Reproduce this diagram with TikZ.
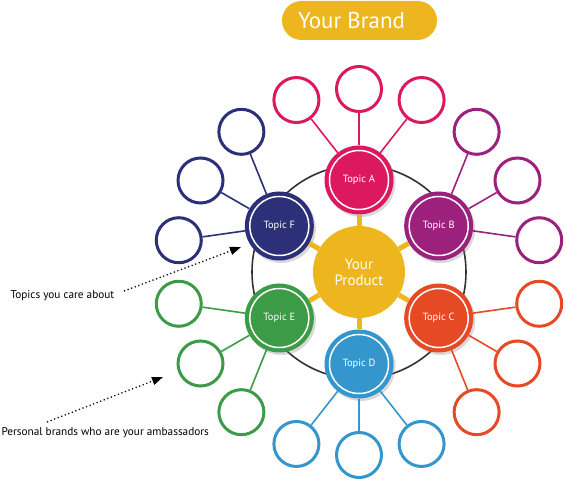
\documentclass[tikz,border=0pt]{standalone}
\usepackage{fontspec}
\setmainfont{PT Sans}
\usetikzlibrary{arrows.meta,shadows,backgrounds}

\definecolor{brandyellow}{RGB}{238,182,30}
\definecolor{topicA}{RGB}{220,24,94}
\definecolor{topicB}{RGB}{155,33,125}
\definecolor{topicC}{RGB}{230,74,36}
\definecolor{topicD}{RGB}{52,150,205}
\definecolor{topicE}{RGB}{60,155,70}
\definecolor{topicF}{RGB}{43,48,120}
\definecolor{ringgray}{RGB}{50,50,50}

\begin{document}
\begin{tikzpicture}[x=1bp, y=1bp,
    topic/.style={circle, fill=#1, minimum size=69bp, inner sep=0pt, text=white,
        font=\fontsize{10.5}{12}\selectfont,
        drop shadow={opacity=0.3, shadow xshift=2bp, shadow yshift=-2.5bp},
        path picture={\draw[white, line width=1.5bp] (path picture bounding box.center) circle (29.5bp);}},
    fan/.style={circle, draw=#1, line width=3bp, fill=white, minimum size=45bp, inner sep=0pt},
    twig/.style={draw=#1, line width=1.6bp},
    spoke/.style={draw=brandyellow, line width=5bp},
    hint/.style={line width=1.3bp, dash pattern=on 1.2bp off 2.6bp, -{Triangle[length=11bp, width=8bp]}},
    note/.style={anchor=west, font=\fontsize{11.3}{14}\selectfont}]

    \useasboundingbox (-359,-210) rectangle (207,272);

    % Title banner
    \node[fill=brandyellow, rounded corners=19.5bp, minimum width=155bp, minimum height=39bp,
        text=white, font=\fontsize{23}{27}\selectfont] (brand) at (0.5,251.5) {Your Brand\hspace*{16bp}};

    % Product in the middle
    \node[circle, fill=brandyellow, minimum size=92bp, inner sep=0pt, align=center, text=white,
        font=\fontsize{15}{16}\selectfont] (product) at (0,0) {Your\\Product};

    % Six topics
    \node[topic=topicA] (tA) at (90:92) {Topic A};
    \node[topic=topicB] (tB) at (30:92) {Topic B};
    \node[topic=topicC] (tC) at (-30:92) {Topic C};
    \node[topic=topicD] (tD) at (-90:92) {Topic D};
    \node[topic=topicE] (tE) at (210:92) {Topic E};
    \node[topic=topicF] (tF) at (150:92) {Topic F};

    % Ring behind the topics
    \begin{scope}[on background layer]
        \draw[ringgray, line width=1.6bp] (product.center) circle (107);
    \end{scope}

    % Spokes from the product
    \draw[spoke] (product) -- (tA);
    \draw[spoke] (product) -- (tB);
    \draw[spoke] (product) -- (tC);
    \draw[spoke] (product) -- (tD);
    \draw[spoke] (product) -- (tE);
    \draw[spoke] (product) -- (tF);

    % Ambassadors around each topic
    \node[fan=topicA] (fanA1) at (110:183) {};
    \node[fan=topicA] (fanA2) at (90:183) {};
    \node[fan=topicA] (fanA3) at (70:183) {};
    \node[fan=topicB] (fanB1) at (50:183) {};
    \node[fan=topicB] (fanB2) at (30:183) {};
    \node[fan=topicB] (fanB3) at (10:183) {};
    \node[fan=topicC] (fanC1) at (-10:183) {};
    \node[fan=topicC] (fanC2) at (-30:183) {};
    \node[fan=topicC] (fanC3) at (-50:183) {};
    \node[fan=topicD] (fanD1) at (-70:183) {};
    \node[fan=topicD] (fanD2) at (-90:183) {};
    \node[fan=topicD] (fanD3) at (-110:183) {};
    \node[fan=topicE] (fanE1) at (-130:183) {};
    \node[fan=topicE] (fanE2) at (-150:183) {};
    \node[fan=topicE] (fanE3) at (-170:183) {};
    \node[fan=topicF] (fanF1) at (170:183) {};
    \node[fan=topicF] (fanF2) at (150:183) {};
    \node[fan=topicF] (fanF3) at (130:183) {};

    \draw[twig=topicA] (tA) -- (fanA1);
    \draw[twig=topicA] (tA) -- (fanA2);
    \draw[twig=topicA] (tA) -- (fanA3);
    \draw[twig=topicB] (tB) -- (fanB1);
    \draw[twig=topicB] (tB) -- (fanB2);
    \draw[twig=topicB] (tB) -- (fanB3);
    \draw[twig=topicC] (tC) -- (fanC1);
    \draw[twig=topicC] (tC) -- (fanC2);
    \draw[twig=topicC] (tC) -- (fanC3);
    \draw[twig=topicD] (tD) -- (fanD1);
    \draw[twig=topicD] (tD) -- (fanD2);
    \draw[twig=topicD] (tD) -- (fanD3);
    \draw[twig=topicE] (tE) -- (fanE1);
    \draw[twig=topicE] (tE) -- (fanE2);
    \draw[twig=topicE] (tE) -- (fanE3);
    \draw[twig=topicF] (tF) -- (fanF1);
    \draw[twig=topicF] (tF) -- (fanF2);
    \draw[twig=topicF] (tF) -- (fanF3);

    % Side notes with dotted pointers
    \node[note] (care) at (-352,-24) {Topics you care about};
    \node[note] (ambassadors) at (-361,-161) {Personal brands who are your ambassadors};
    \coordinate (careTail) at (-235,-19);
    \coordinate (careTip) at (-118,25);
    \coordinate (ambTail) at (-312,-150);
    \coordinate (ambTip) at (-196,-105);
    \draw[hint] (careTail) -- (careTip);
    \draw[hint] (ambTail) -- (ambTip);

\end{tikzpicture}
\end{document}
